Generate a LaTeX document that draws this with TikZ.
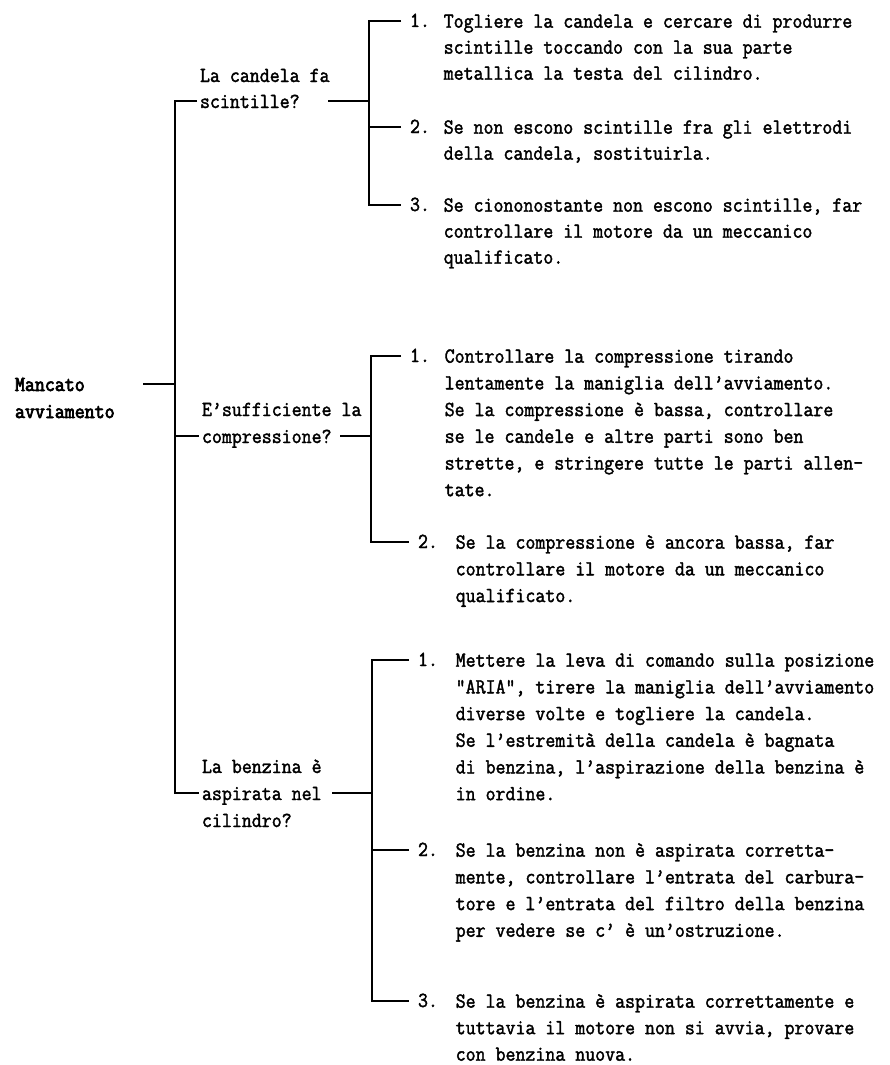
\documentclass[tikz,border=0pt]{standalone}
\usepackage{fontspec}
\newfontfamily\tw[FakeStretch=0.9,FakeBold=1.8]{Latin Modern Mono}
\newfontfamily\twb[FakeStretch=0.9,FakeBold=3.4]{Latin Modern Mono}
\begin{document}
\begin{tikzpicture}[x=1pt,y=-1pt,line width=1.4pt,
  lbl/.style={font=\tw\fontsize{21.5}{26}\selectfont,inner sep=0pt,anchor=base west,
    text height=14pt,text depth=0pt,outer xsep=3pt},
  rootlbl/.style={lbl,font=\twb\fontsize{21.5}{26}\selectfont},
  num/.style={font=\tw\fontsize{21.5}{26}\selectfont,inner sep=0pt,anchor=base west,
    text height=12pt,text depth=0pt,outer xsep=9pt},
  body/.style={font=\tw\fontsize{21.5}{#1}\selectfont,inner sep=0pt,anchor=north west,align=left},
  body/.default=26.7]
\fill[white] (0,0) rectangle (889,1065);
\useasboundingbox (0,0) rectangle (889,1065);
% column coordinates
\coordinate (M) at (175,0);
\coordinate (RS) at (143,0);
\coordinate (B1) at (369,0);
\coordinate (B2) at (371,0);
\coordinate (B3) at (372,0);
\coordinate (S1) at (328,0);
\coordinate (S2) at (340,0);
\coordinate (S3) at (332,0);
% root
\node[rootlbl] (r1) at (12,391) {Mancato};
\node[rootlbl] (r2) at (12,418) {avviamento};
% questions
\node[lbl] (q1a) at (197,82) {La candela fa};
\node[lbl] (q1b) at (197,108) {scintille?};
\node[lbl] (q2a) at (199,416) {E’sufficiente la};
\node[lbl] (q2b) at (199,443) {compressione?};
\node[lbl] (q3a) at (199,773) {La benzina è};
\node[lbl] (q3b) at (199,800) {aspirata nel};
\node[lbl] (q3c) at (199,827) {cilindro?};
% section 1
\node[num] (n11) at (401,27) {1.};
\node[body=26] (t11) at (443,12) {\rule{0pt}{15pt}Togliere la candela e cercare di produrre\\scintille toccando con la sua parte\\metallica la testa del cilindro.};
\node[num] (n12) at (401,133) {2.};
\node[body=26] (t12) at (443,118) {\rule{0pt}{15pt}Se non escono scintille fra gli elettrodi\\della candela, sostituirla.};
\node[num] (n13) at (401,211) {3.};
\node[body=26] (t13) at (443,196) {\rule{0pt}{15pt}Se ciononostante non escono scintille, far\\controllare il motore da un meccanico\\qualificato.};
% section 2
\node[num] (n21) at (401,362) {1.};
\node[body] (t21) at (444,347) {\rule{0pt}{15pt}Controllare la compressione tirando\\lentamente la maniglia dell’avviamento.\\Se la compressione è bassa, controllare\\se le candele e altre parti sono ben\\strette, e stringere tutte le parti allen-\\tate.};
\node[num] (n22) at (409,548) {2.};
\node[body] (t22) at (455,533) {\rule{0pt}{15pt}Se la compressione è ancora bassa, far\\controllare il motore da un meccanico\\qualificato.};
% section 3
\node[num] (n31) at (409,666) {1.};
\node[body] (t31) at (455,651) {\rule{0pt}{15pt}Mettere la leva di comando sulla posizione\\”ARIA”, tirere la maniglia dell’avviamento\\diverse volte e togliere la candela.\\Se l’estremità della candela è bagnata\\di benzina, l’aspirazione della benzina è\\in ordine.};
\node[num] (n32) at (409,856) {2.};
\node[body] (t32) at (455,841) {\rule{0pt}{15pt}Se la benzina non è aspirata corretta-\\mente, controllare l’entrata del carbura-\\tore e l’entrata del filtro della benzina\\per vedere se c’ è un’ostruzione.};
\node[num] (n33) at (409,1007) {3.};
\node[body=26.5] (t33) at (455,992) {\rule{0pt}{15pt}Se la benzina è aspirata correttamente e\\tuttavia il motore non si avvia, provare\\con benzina nuova.};
% connectors: root and main spine
\draw (r1.east -| RS) -- (r1.east -| M);
\draw (q1b.west) -- (q1b.west -| M) -- (q3b.west -| M) -- (q3b.west);
\draw (q2b.west -| M) -- (q2b.west);
% question 1 bracket
\draw (q1b.east -| S1) -- (q1b.east -| B1);
\draw (n11.west) -- (n11.west -| B1) -- (n13.west -| B1) -- (n13.west);
\draw (n12.west) -- (n12.west -| B1);
% question 2 bracket
\draw (q2b.east -| S2) -- (q2b.east -| B2);
\draw (n21.west) -- (n21.west -| B2) -- (n22.west -| B2) -- (n22.west);
% question 3 bracket
\draw (q3b.east -| S3) -- (q3b.east -| B3);
\draw (n31.west) -- (n31.west -| B3) -- (n33.west -| B3) -- (n33.west);
\draw (n32.west) -- (n32.west -| B3);
\end{tikzpicture}
\end{document}
